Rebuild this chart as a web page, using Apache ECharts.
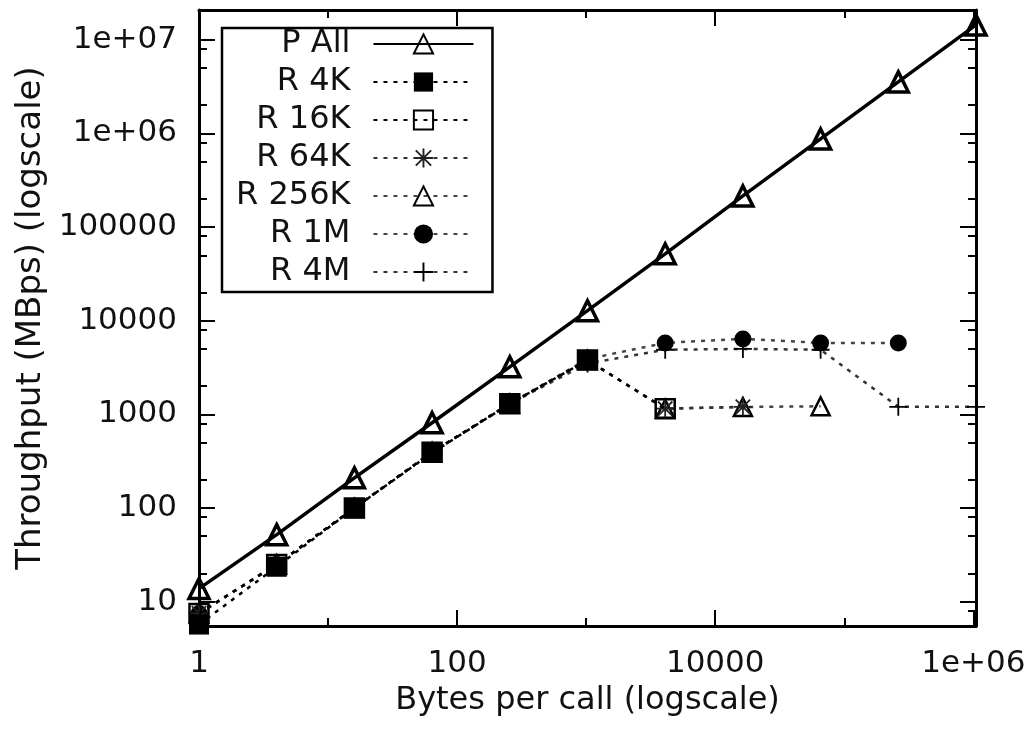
<!DOCTYPE html>
<html>
<head>
<meta charset="utf-8">
<script src="https://cdn.jsdelivr.net/npm/echarts@6/dist/echarts.min.js"></script>
<style>
  html, body { margin: 0; padding: 0; background: #fff; }
  #chart { width: 1029px; height: 738px; }
</style>
</head>
<body>
<div id="chart"></div>
<script>
  // bytes per call (x) for every series
  const bytesPerCall = [1, 4, 16, 64, 256, 1024, 4096, 16384, 65536, 262144, 1048576];

  // throughput in MBps
  const pAll = [13.8, 52, 210, 815, 3220, 12800, 51800, 215000, 873000, 3550000, 14400000];
  const r4K = [5.7, 23.6, 100, 389, 1297, 3800];
  const r16K = [7.5, 25, 100, 395, 1300, 3800, 1150];
  const r64K = [7.5, 25, 100, 395, 1300, 3800, 1150, 1205];
  const r256K = [7.5, 25, 100, 395, 1300, 3800, 1150, 1200, 1220];
  const r1M = [7.5, 25, 100, 395, 1300, 3900, 5800, 6400, 5800, 5800];
  const r4M = [7.5, 25, 100, 395, 1300, 3500, 4900, 5000, 4900, 1205, 1205];

  // tick values
  const xMajorTicks = [1, 100, 10000, 1000000];
  const xMinorTicks = [10, 1000, 100000];
  const yMajorTicks = [10, 100, 1000, 10000, 100000, 1000000, 10000000];
  const yMinorTicks = [8, 20, 50, 80, 200, 500, 800, 2000, 5000, 8000, 20000, 50000, 80000,
    200000, 500000, 800000, 2000000, 5000000, 8000000];

  const X_MIN = 1, X_MAX = 1048576;
  const Y_MIN = 5.5, Y_MAX = 20800000;

  const FONT = 'DejaVu Sans';
  const TXT = '#111';

  // asterisk and plus glyphs for gnuplot-like point types
  const STAR = 'path://M9 0L11 0L11 20L9 20ZM0 9L20 9L20 11L0 11Z' +
    'M2.7 1.3L18.7 17.3L17.3 18.7L1.3 2.7ZM17.3 1.3L18.7 2.7L2.7 18.7L1.3 17.3Z';
  const PLUS = 'path://M9 0L11 0L11 20L9 20ZM0 9L20 9L20 11L0 11Z';

  const labelFmt = v => {
    if (v >= 1e6) {
      return '1e+' + String(Math.round(Math.log10(v))).padStart(2, '0');
    }
    return String(Math.round(v));
  };

  const pairs = ys => ys.map((y, i) => [bytesPerCall[i], y]);

  const makeAxis = (dim, position, ticks, len, withLabels, withLine) => ({
    type: 'log',
    logBase: 10,
    position,
    min: dim === 'x' ? X_MIN : Y_MIN,
    max: dim === 'x' ? X_MAX : Y_MAX,
    axisLine: { show: withLine, onZero: false, lineStyle: { color: '#000', width: 3 } },
    axisTick: {
      show: true,
      inside: true,
      length: len,
      customValues: ticks,
      lineStyle: { color: '#000', width: 2 }
    },
    minorTick: { show: false },
    splitLine: { show: false },
    axisLabel: withLabels
      ? {
          show: true,
          customValues: ticks,
          formatter: labelFmt,
          color: TXT,
          fontFamily: FONT,
          fontSize: 31,
          margin: 22
        }
      : { show: false }
  });

  const xMain = makeAxis('x', 'bottom', xMajorTicks, 16, true, true);
  xMain.name = 'Bytes per call (logscale)';
  xMain.nameLocation = 'middle';
  xMain.nameGap = 59;
  xMain.nameTextStyle = { color: TXT, fontFamily: FONT, fontSize: 32 };

  const yMain = makeAxis('y', 'left', yMajorTicks, 16, true, true);
  yMain.name = 'Throughput (MBps) (logscale)';
  yMain.nameLocation = 'middle';
  yMain.nameGap = 149;
  yMain.nameTextStyle = { color: TXT, fontFamily: FONT, fontSize: 34 };

  const lineSeries = (name, ys, opts) => ({
    name,
    type: 'line',
    data: pairs(ys),
    xAxisIndex: 0,
    yAxisIndex: 0,
    symbol: opts.symbol,
    symbolSize: opts.size,
    showAllSymbol: true,
    z: opts.z,
    lineStyle: { color: opts.color || '#000', width: opts.width || 2.5, type: opts.dash || 'solid' },
    itemStyle: {
      color: opts.fill,
      borderColor: '#000',
      borderWidth: opts.border || 0
    },
    emphasis: { disabled: true }
  });

  const dots = [4, 6];
  const hollow = 'rgba(255,255,255,0)';

  const chart = echarts.init(document.getElementById('chart'));
  chart.setOption({
    animation: false,
    backgroundColor: '#fff',
    grid: { left: 199, right: 53, top: 10, bottom: 112, containLabel: false, outerBoundsMode: 'none' },
    xAxis: [
      xMain,
      makeAxis('x', 'bottom', xMinorTicks, 8, false, false),
      makeAxis('x', 'top', xMajorTicks, 16, false, true),
      makeAxis('x', 'top', xMinorTicks, 8, false, false)
    ],
    yAxis: [
      yMain,
      makeAxis('y', 'left', yMinorTicks, 8, false, false),
      makeAxis('y', 'right', yMajorTicks, 16, false, true),
      makeAxis('y', 'right', yMinorTicks, 8, false, false)
    ],
    legend: {
      orient: 'vertical',
      left: 222,
      top: 28,
      align: 'right',
      itemWidth: 100,
      itemHeight: 24,
      itemGap: 6,
      padding: [0, 18, 4, 14],
      borderColor: '#000',
      borderWidth: 2.5,
      backgroundColor: '#fff',
      selectedMode: false,
      textStyle: { color: TXT, fontFamily: FONT, fontSize: 32, padding: [0, 18, 0, 0] }
    },
    series: [
      lineSeries('P All', pAll, { symbol: 'triangle', size: 20, fill: hollow, border: 3.5, width: 3.5, z: 2 }),
      lineSeries('R 4K', r4K, { symbol: 'rect', size: 20, fill: '#000', dash: dots, z: 9 }),
      lineSeries('R 16K', r16K, { symbol: 'rect', size: 19, fill: hollow, border: 2.5, dash: dots, z: 8 }),
      lineSeries('R 64K', r64K, { symbol: STAR, size: 18, fill: '#222', dash: dots, color: '#333', z: 7 }),
      lineSeries('R 256K', r256K, { symbol: 'triangle', size: 18, fill: hollow, border: 2.5, dash: dots, color: '#444', z: 6 }),
      lineSeries('R 1M', r1M, { symbol: 'circle', size: 17, fill: '#000', dash: dots, color: '#444', z: 5 }),
      lineSeries('R 4M', r4M, { symbol: PLUS, size: 18, fill: '#000', dash: dots, color: '#333', z: 4 })
    ]
  });
</script>
</body>
</html>
